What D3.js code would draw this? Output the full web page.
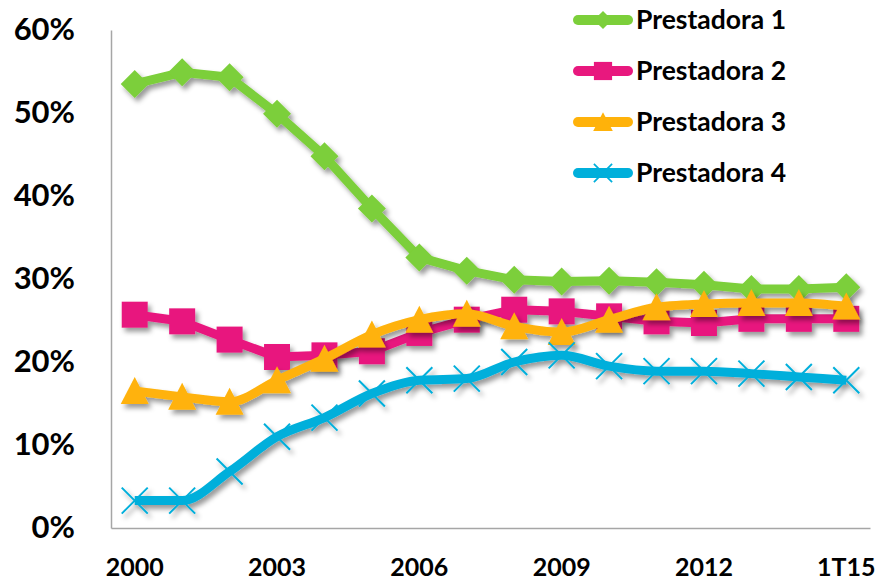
<!DOCTYPE html>
<html>
<head>
<meta charset="utf-8">
<script src="https://cdn.jsdelivr.net/npm/d3@7"></script>
<style>
  body { margin: 0; background: #fff; }
  svg text { font-family: Lato, "Open Sans", sans-serif; font-weight: 700; fill: #000; }
</style>
</head>
<body>
<div id="chart"></div>
<script>
// categories (años)
const years = ["2000", "2001", "2002", "2003", "2004", "2005", "2006", "2007",
               "2008", "2009", "2010", "2011", "2012", "2013", "2014", "1T15"];
const yearLabels = ["2000", "2003", "2006", "2009", "2012", "1T15"];
const yTicks = [0, 0.1, 0.2, 0.3, 0.4, 0.5, 0.6];

// participación por prestadora
const prestadora1 = [0.535, 0.549, 0.543, 0.499, 0.448, 0.385, 0.326, 0.310, 0.299, 0.297, 0.298, 0.296, 0.293, 0.288, 0.288, 0.290];
const prestadora2 = [0.257, 0.249, 0.227, 0.206, 0.208, 0.213, 0.235, 0.251, 0.263, 0.261, 0.255, 0.249, 0.247, 0.252, 0.252, 0.252];
const prestadora3 = [0.165, 0.158, 0.152, 0.178, 0.204, 0.233, 0.251, 0.258, 0.243, 0.236, 0.251, 0.266, 0.270, 0.271, 0.271, 0.267];
const prestadora4 = [0.033, 0.033, 0.068, 0.110, 0.133, 0.162, 0.178, 0.180, 0.200, 0.208, 0.195, 0.189, 0.189, 0.186, 0.182, 0.178];

const seriesNames = ["Prestadora 1", "Prestadora 2", "Prestadora 3", "Prestadora 4"];

const width = 880, height = 581;
const margin = { left: 111, right: 10, top: 30, bottom: 53 };

const svg = d3.select("#chart").append("svg")
    .attr("width", width)
    .attr("height", height);

// sombra como en Excel
const shadow = svg.append("defs").append("filter")
    .attr("id", "shadow")
    .attr("x", "-10%").attr("y", "-10%")
    .attr("width", "130%").attr("height", "140%");
shadow.append("feDropShadow")
    .attr("dx", 3).attr("dy", 4)
    .attr("stdDeviation", 2.5)
    .attr("flood-color", "#000")
    .attr("flood-opacity", 0.4);

const x = d3.scaleBand()
    .domain(years)
    .range([margin.left, 870]);

const y = d3.scaleLinear()
    .domain([0, 0.6])
    .range([height - margin.bottom, margin.top]);

const cx = d => x(d) + x.bandwidth() / 2;

// ejes
const yAxis = svg.append("g")
    .attr("transform", `translate(${margin.left},0)`)
    .call(d3.axisLeft(y).tickValues(yTicks).tickFormat(d3.format(".0%")).tickSize(0).tickSizeOuter(0).tickPadding(36));
yAxis.selectAll("text").attr("font-size", 31).attr("font-family", null);

const xAxis = svg.append("g")
    .attr("transform", `translate(0,${y(0)})`)
    .call(d3.axisBottom(x).tickValues(yearLabels).tickSize(0).tickSizeOuter(0).tickPadding(30));
xAxis.selectAll("text").attr("font-size", 25).attr("font-family", null);

svg.selectAll(".domain").attr("stroke", "#a6a6a6").attr("stroke-width", 1.5);

// marcadores
const markerPaths = {
    diamond: "M0,-14L14,0L0,14L-14,0Z",
    square: "M-13,-13H13V13H-13Z",
    triangle: "M0,-14L14,13H-14Z",
    cross: "M-13,-13L13,13M13,-13L-13,13"
};

const series = [
    { name: seriesNames[0], values: prestadora1, color: "#7ccf3a", marker: "diamond", curve: d3.curveLinear },
    { name: seriesNames[1], values: prestadora2, color: "#e8187e", marker: "square", curve: d3.curveLinear },
    { name: seriesNames[2], values: prestadora3, color: "#ffb20a", marker: "triangle", curve: d3.curveMonotoneX },
    { name: seriesNames[3], values: prestadora4, color: "#00afdb", marker: "cross", curve: d3.curveMonotoneX }
];

series.forEach(s => {
    const g = svg.append("g").attr("filter", "url(#shadow)");
    const line = d3.line()
        .x((d, i) => cx(years[i]))
        .y(d => y(d))
        .curve(s.curve);

    g.append("path")
        .datum(s.values)
        .attr("d", line)
        .attr("fill", "none")
        .attr("stroke", s.color)
        .attr("stroke-width", 9)
        .attr("stroke-linejoin", "round");

    g.selectAll(".m")
        .data(s.values)
        .enter().append("path")
        .attr("transform", (d, i) => `translate(${cx(years[i])},${y(d)})`)
        .attr("d", markerPaths[s.marker])
        .attr("fill", s.marker === "cross" ? "none" : s.color)
        .attr("stroke", s.marker === "cross" ? s.color : "none")
        .attr("stroke-width", 2);
});

// leyenda
const legend = svg.append("g");
series.forEach((s, i) => {
    const ly = 20 + i * 51;
    legend.append("line")
        .attr("x1", 578).attr("x2", 628)
        .attr("y1", ly).attr("y2", ly)
        .attr("stroke", s.color)
        .attr("stroke-width", 10)
        .attr("stroke-linecap", "round");
    legend.append("path")
        .attr("transform", `translate(603,${ly}) scale(${s.marker === "diamond" ? 0.65 : 0.7})`)
        .attr("d", markerPaths[s.marker])
        .attr("fill", s.marker === "cross" ? "none" : s.color)
        .attr("stroke", s.marker === "cross" ? s.color : "none")
        .attr("stroke-width", 2.5);
    legend.append("text")
        .attr("x", 636)
        .attr("y", ly)
        .attr("dy", "0.35em")
        .attr("font-size", 26.5)
        .text(s.name);
});
</script>
</body>
</html>
